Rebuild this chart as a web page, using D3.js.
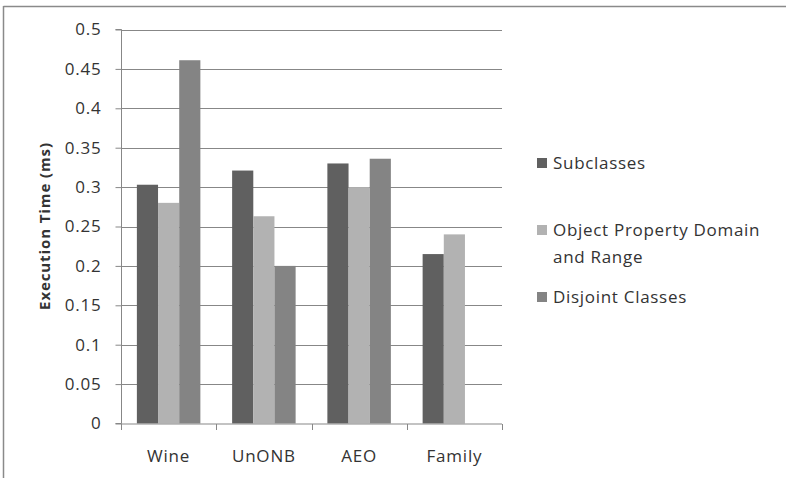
<!DOCTYPE html>
<html>
<head>
<meta charset="utf-8">
<script src="https://cdn.jsdelivr.net/npm/d3@7"></script>
<style>
  html, body { margin: 0; padding: 0; background: #fff; }
  svg { display: block; }
  text { font-family: "Open Sans", "Noto Sans", sans-serif; fill: #333; }
</style>
</head>
<body>
<svg id="chart" width="786" height="478"></svg>
<script>
// Execution time per ontology, one series per check
const categories = ["Wine", "UnONB", "AEO", "Family"];
const seriesNames = ["Subclasses", "Object Property Domain and Range", "Disjoint Classes"];
const subclasses = [0.303, 0.321, 0.330, 0.215];
const objectPropertyDomainRange = [0.280, 0.263, 0.300, 0.240];
const disjointClasses = [0.461, 0.200, 0.336, null];
const yTicks = [0, 0.05, 0.1, 0.15, 0.2, 0.25, 0.3, 0.35, 0.4, 0.45, 0.5];
const seriesColors = ["#606060", "#b2b2b2", "#848484"];

const seriesValues = [subclasses, objectPropertyDomainRange, disjointClasses];

const svg = d3.select("#chart");

// chart frame
svg.append("line").attr("x1", 3.5).attr("x2", 786).attr("y1", 6.5).attr("y2", 6.5)
  .attr("stroke", "#8a8a8a").attr("stroke-width", 1.5);
svg.append("line").attr("x1", 3.5).attr("x2", 3.5).attr("y1", 6).attr("y2", 478)
  .attr("stroke", "#8a8a8a").attr("stroke-width", 1.5);

const plot = { left: 121, right: 502, top: 29.5, bottom: 423.5 };

const x = d3.scaleBand().domain(categories).range([plot.left, plot.right]);
const xInner = d3.scaleBand().domain(d3.range(seriesNames.length))
  .range([0, x.bandwidth()]).paddingOuter(0.75).paddingInner(0);
const y = d3.scaleLinear().domain([0, 0.5]).range([plot.bottom, plot.top]);

// horizontal gridlines
svg.append("g").selectAll("line").data(yTicks.filter(d => d > 0)).join("line")
  .attr("x1", plot.left).attr("x2", plot.right)
  .attr("y1", d => Math.round(y(d)) + 0.5).attr("y2", d => Math.round(y(d)) + 0.5)
  .attr("stroke", "#878787").attr("stroke-width", 1);

// bars
const groups = svg.append("g").selectAll("g").data(categories).join("g")
  .attr("transform", d => `translate(${x(d)},0)`);
groups.selectAll("rect")
  .data((c, ci) => seriesValues.map((vals, si) => ({ si, v: vals[ci] })).filter(d => d.v != null))
  .join("rect")
  .attr("x", d => xInner(d.si))
  .attr("width", xInner.bandwidth())
  .attr("y", d => y(d.v))
  .attr("height", d => y(0) - y(d.v))
  .attr("fill", d => seriesColors[d.si]);

// y axis
const yAxis = d3.axisLeft(y).tickValues(yTicks).tickSize(6).tickPadding(14)
  .tickFormat(d => String(d));
const gy = svg.append("g").attr("transform", `translate(${plot.left + 0.5},0)`).call(yAxis);
gy.select(".domain").attr("stroke", "#878787").attr("d", `M-6,${plot.top}H0V${plot.bottom}H-6`);
gy.selectAll(".tick line").attr("stroke", "#878787");
gy.selectAll(".tick text").attr("font-size", 17).attr("fill", "#333")
  .attr("letter-spacing", 0.8)
  .style("font-family", "'Open Sans', sans-serif");

// x axis with ticks at band boundaries
const gx = svg.append("g").attr("transform", `translate(0,${plot.bottom + 0.5})`);
gx.append("line").attr("x1", plot.left).attr("x2", plot.right).attr("stroke", "#878787");
const bounds = categories.map(c => x(c)).concat([x(categories[categories.length - 1]) + x.bandwidth()]);
gx.selectAll("line.tk").data(bounds).join("line").attr("class", "tk")
  .attr("x1", d => Math.round(d) + 0.5).attr("x2", d => Math.round(d) + 0.5)
  .attr("y1", 0).attr("y2", 6).attr("stroke", "#878787");
gx.selectAll("text").data(categories).join("text")
  .attr("x", d => x(d) + x.bandwidth() / 2)
  .attr("y", 38)
  .attr("text-anchor", "middle")
  .attr("font-size", 17)
  .attr("letter-spacing", 0.8)
  .text(d => d);

// y axis title
svg.append("text")
  .attr("transform", "translate(50,226) rotate(-90)")
  .attr("text-anchor", "middle")
  .attr("font-size", 15)
  .attr("font-weight", "bold")
  .attr("letter-spacing", 0.9)
  .attr("fill", "#222")
  .text("Execution Time (ms)");

// legend
const legendItems = [
  { lines: ["Subclasses"], y: 163 },
  { lines: ["Object Property Domain", "and Range"], y: 230 },
  { lines: ["Disjoint Classes"], y: 297 }
];
const lg = svg.append("g").selectAll("g").data(legendItems).join("g");
lg.append("rect")
  .attr("x", 537).attr("y", d => d.y - 5).attr("width", 10).attr("height", 10)
  .attr("fill", (d, i) => seriesColors[i]);
lg.append("text")
  .attr("x", 553).attr("y", d => d.y + 6)
  .attr("font-size", 17)
  .attr("letter-spacing", 0.7)
  .selectAll("tspan").data(d => d.lines).join("tspan")
  .attr("x", 553).attr("dy", (d, i) => i === 0 ? 0 : 27)
  .text(d => d);
</script>
</body>
</html>
